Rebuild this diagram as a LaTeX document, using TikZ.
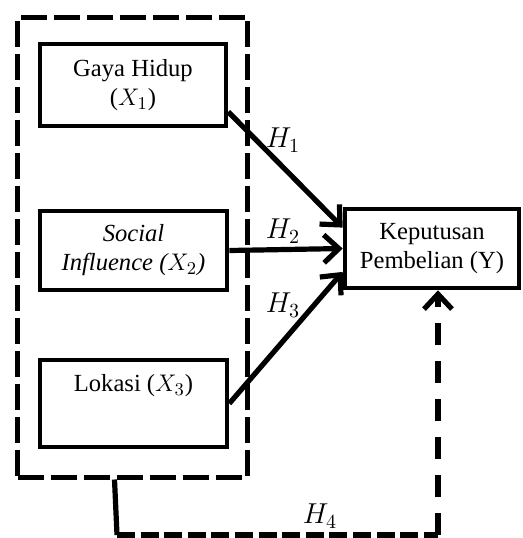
\documentclass[tikz,border=0pt]{standalone}
\usepackage{fontspec}
\setmainfont{Liberation Serif}
\usetikzlibrary{arrows.meta,calc}
\begin{document}
\begin{tikzpicture}[x=0.5pt,y=-0.5pt,
  varbox/.style={draw,line width=2.3pt,rectangle,align=center,inner sep=0pt,
    font=\fontsize{12.3}{14.5}\selectfont},
  grpbox/.style={draw,line width=2.5pt,rectangle,dash pattern=on 13pt off 3.5pt,inner sep=0pt},
  hlab/.style={font=\fontsize{14}{16}\selectfont,inner sep=0pt},
  conn/.style={line width=2.6pt,-{Straight Barb[length=7.5pt,width=14pt,line width=2.6pt]}},
]
\useasboundingbox (0,0) rectangle (523,538);
\node[grpbox,minimum width=115pt,minimum height=230pt] (grp) at (133,247) {};
\node[varbox,minimum width=93pt,minimum height=41pt] (b1) at (133,85) {Gaya Hidup\\($X_1$)};
\node[varbox,minimum width=93.5pt,minimum height=39.5pt] (b2) at (133.5,250.5) {\itshape Social\\\itshape Influence ($X_2$)};
\node[varbox,minimum width=93.5pt,minimum height=43.5pt] (b3) at (133.5,403.5) {};
\node[font=\fontsize{12.3}{14.5}\selectfont,inner sep=0pt] (t3) at (133.5,386) {Lokasi ($X_3$)};
\node[varbox,minimum width=87pt,minimum height=39.5pt] (y) at (432,248.5) {Keputusan\\Pembelian (Y)};
\draw[conn] ($(b1.north east)!0.81!(b1.south east)$) -- ($(y.north west)!0.25!(y.south west)$);
\draw[conn] (b2.east) -- (y.west);
\draw[conn] (b3.east) -- ($(y.north west)!0.78!(y.south west)$);
\node[hlab] (h1) at (283,140) {$H_1$};
\node[hlab] (h2) at (283,231) {$H_2$};
\node[hlab] (h3) at (283,305) {$H_3$};
\node[hlab] (h4) at (320,516) {$H_4$};
\coordinate (s0) at ($(grp.south west)+(99,0)$);
\coordinate (c1) at (117,535);
\coordinate (c2) at (438,535);
\draw[line width=2.6pt] (s0) -- (c1);
\draw[line width=2.6pt,dash pattern=on 9pt off 2.8pt] (c1) -- (c2);
\draw[line width=2.6pt,dash pattern=on 11pt off 8pt,-{Straight Barb[length=7.5pt,width=14pt,line width=2.6pt]}] (c2) -- (c2 |- y.south);
\end{tikzpicture}
\end{document}
